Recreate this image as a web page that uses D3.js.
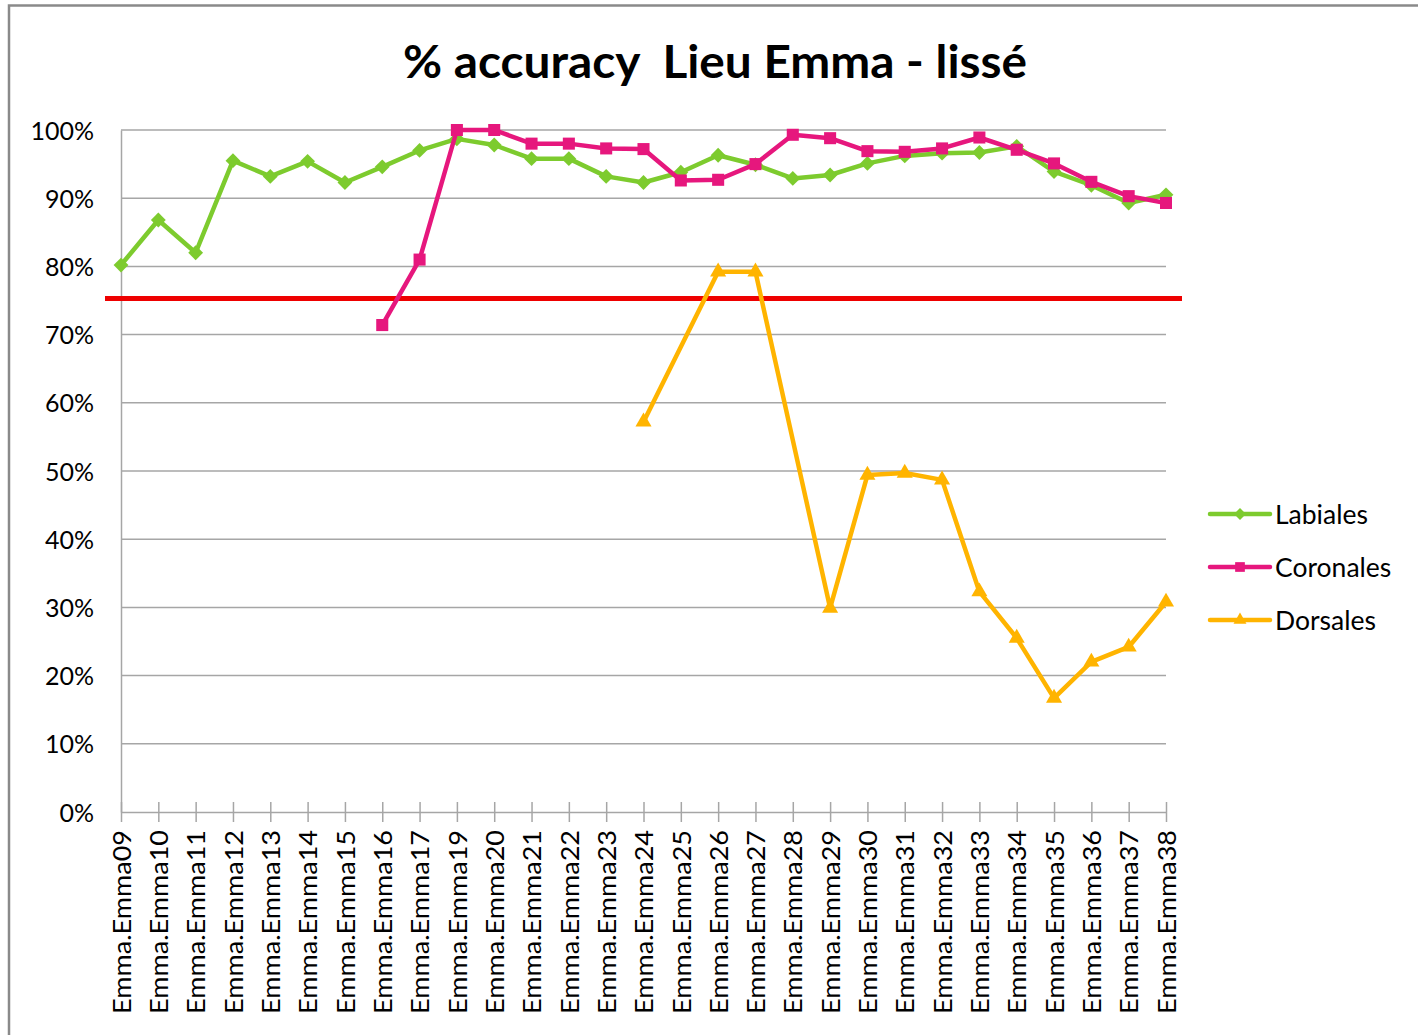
<!DOCTYPE html>
<meta charset="utf-8">

<!-- Load d3.js -->
<script src="https://d3js.org/d3.v7.min.js"></script>

<style>
    body {
        margin: 0;
        background-color: white;
    }
    text {
        font-family: Lato, "Noto Sans", sans-serif;
        fill: #000;
    }
</style>

<body>
</body>

<script>
    // Data (values as fractions, null = no point)
    var categories = ["Emma.Emma09", "Emma.Emma10", "Emma.Emma11", "Emma.Emma12", "Emma.Emma13",
        "Emma.Emma14", "Emma.Emma15", "Emma.Emma16", "Emma.Emma17", "Emma.Emma19", "Emma.Emma20",
        "Emma.Emma21", "Emma.Emma22", "Emma.Emma23", "Emma.Emma24", "Emma.Emma25", "Emma.Emma26",
        "Emma.Emma27", "Emma.Emma28", "Emma.Emma29", "Emma.Emma30", "Emma.Emma31", "Emma.Emma32",
        "Emma.Emma33", "Emma.Emma34", "Emma.Emma35", "Emma.Emma36", "Emma.Emma37", "Emma.Emma38"];

    var labiales = [0.802, 0.868, 0.820, 0.955, 0.932, 0.954, 0.923, 0.946, 0.970, 0.987, 0.978,
        0.958, 0.958, 0.932, 0.923, 0.938, 0.963, 0.949, 0.929, 0.934, 0.951, 0.962, 0.966,
        0.967, 0.976, 0.939, 0.919, 0.893, 0.905];

    var coronales = [null, null, null, null, null, null, null, 0.714, 0.810, 1.000, 1.000,
        0.980, 0.980, 0.973, 0.972, 0.926, 0.927, 0.950, 0.993, 0.988, 0.969, 0.968, 0.973,
        0.989, 0.971, 0.951, 0.924, 0.903, 0.893];

    var dorsales = [null, null, null, null, null, null, null, null, null, null, null,
        null, null, null, 0.572, null, 0.792, 0.792, null, 0.299, 0.494, 0.497, 0.487,
        0.323, 0.255, 0.167, 0.220, 0.242, 0.308];

    var seriesNames = ["Labiales", "Coronales", "Dorsales"];
    var yTicks = [0, 0.1, 0.2, 0.3, 0.4, 0.5, 0.6, 0.7, 0.8, 0.9, 1.0];
    var threshold = 0.753;  // red reference line
    var title = "% accuracy  Lieu Emma - lissé";

    var colors = {Labiales: "#7DCB2E", Coronales: "#E6177D", Dorsales: "#FFB400"};
    var shapes = {Labiales: d3.symbolDiamond2, Coronales: d3.symbolSquare2, Dorsales: d3.symbolTriangle2};
    var values = {Labiales: labiales, Coronales: coronales, Dorsales: dorsales};

    // Plot area
    var margin = {top: 130, right: 252, bottom: 223, left: 121},
        width = 1418 - margin.left - margin.right,
        height = 1035 - margin.top - margin.bottom;

    var svg = d3.select("body")
        .append("svg")
            .attr("width", 1418)
            .attr("height", 1035);

    // outer frame (only left and top edges are visible in the picture)
    svg.append("path")
        .attr("d", "M9,1035V5.5H1418")
        .attr("fill", "none")
        .attr("stroke", "#8a8a8a")
        .attr("stroke-width", 2.5);

    // title
    svg.append("text")
        .attr("x", 715)
        .attr("y", 78)
        .attr("text-anchor", "middle")
        .attr("textLength", 624)
        .attr("lengthAdjust", "spacingAndGlyphs")
        .style("font-size", "46px")
        .style("font-weight", "bold")
        .style("white-space", "pre")
        .text(title);

    var g = svg.append("g")
        .attr("transform", "translate(" + margin.left + "," + margin.top + ")");

    var x = d3.scalePoint()
        .domain(categories)
        .range([0, width])
        .padding(0);

    var y = d3.scaleLinear()
        .domain([0, 1])
        .range([height, 0]);

    // horizontal gridlines
    g.append("g")
        .selectAll("line")
        .data(yTicks.slice(1))
        .enter()
        .append("line")
            .attr("x1", 0)
            .attr("x2", width)
            .attr("y1", function(d) { return y(d); })
            .attr("y2", function(d) { return y(d); })
            .attr("stroke", "#a6a6a6")
            .attr("stroke-width", 1.5);

    // y axis: line + labels, no ticks
    var yAxis = d3.axisLeft(y)
        .tickValues(yTicks)
        .tickFormat(d3.format(".0%"))
        .tickSize(0)
        .tickPadding(27);

    g.append("g")
        .call(yAxis)
        .call(function(sel) {
            sel.select(".domain").attr("stroke", "#a6a6a6").attr("stroke-width", 1.5);
            sel.selectAll("text")
                .style("font-size", "25px")
                .style("font-family", "Lato, sans-serif")
                .attr("fill", "#000")
                .attr("dy", "0.36em");
        });

    // x axis with crossing tick marks
    var xAxis = d3.axisBottom(x)
        .tickSizeInner(10)
        .tickSizeOuter(0)
        .tickPadding(18);

    g.append("g")
        .attr("transform", "translate(0," + height + ")")
        .call(xAxis)
        .call(function(sel) {
            sel.select(".domain").attr("stroke", "#a6a6a6").attr("stroke-width", 1.5);
            sel.selectAll(".tick line")
                .attr("y1", -10)
                .attr("y2", 10)
                .attr("stroke", "#a6a6a6")
                .attr("stroke-width", 1.5);
            sel.selectAll("text")
                .style("font-size", "25.5px")
                .style("font-family", "Lato, sans-serif")
                .attr("fill", "#000")
                .attr("text-anchor", "end")
                .attr("textLength", 184)
                .attr("lengthAdjust", "spacingAndGlyphs")
                .attr("transform", "rotate(-90)")
                .attr("x", -18)
                .attr("y", 0)
                .attr("dy", "0.36em");
        });

    // red reference line, runs a bit outside the plot area
    g.append("line")
        .attr("x1", -16)
        .attr("x2", width + 16)
        .attr("y1", y(threshold))
        .attr("y2", y(threshold))
        .attr("stroke", "#EE0000")
        .attr("stroke-width", 5);

    var line = d3.line()
        .x(function(d) { return x(d.cat); })
        .y(function(d) { return y(d.v); });

    // series, empty cells are bridged (Excel "connect data points")
    seriesNames.forEach(function(name) {
        var pts = [];
        for (var i = 0; i < categories.length; i++) {
            if (values[name][i] != null) pts.push({cat: categories[i], v: values[name][i]});
        }

        g.append("path")
            .datum(pts)
            .attr("d", line)
            .attr("fill", "none")
            .attr("stroke", colors[name])
            .attr("stroke-width", 4.5)
            .attr("stroke-linejoin", "round")
            .attr("stroke-linecap", "round");

        g.selectAll(".m-" + name)
            .data(pts)
            .enter()
            .append("path")
                .attr("class", "m-" + name)
                .attr("transform", function(d) { return "translate(" + x(d.cat) + "," + y(d.v) + ")"; })
                .attr("d", d3.symbol().type(shapes[name]).size(name === "Labiales" ? 140 : 185))
                .attr("fill", colors[name]);
    });

    // legend
    var legend = svg.append("g")
        .attr("transform", "translate(1210,514)");

    seriesNames.forEach(function(name, i) {
        var row = legend.append("g").attr("transform", "translate(0," + (i * 53) + ")");
        row.append("line")
            .attr("x1", 0).attr("x2", 60)
            .attr("stroke", colors[name])
            .attr("stroke-width", 4.5)
            .attr("stroke-linecap", "round");
        row.append("path")
            .attr("transform", "translate(30,0)")
            .attr("d", d3.symbol().type(shapes[name]).size(name === "Labiales" ? 90 : 120))
            .attr("fill", colors[name]);
        row.append("text")
            .attr("x", 65)
            .attr("dy", "0.36em")
            .style("font-size", "26.5px")
            .text(name);
    });
</script>
